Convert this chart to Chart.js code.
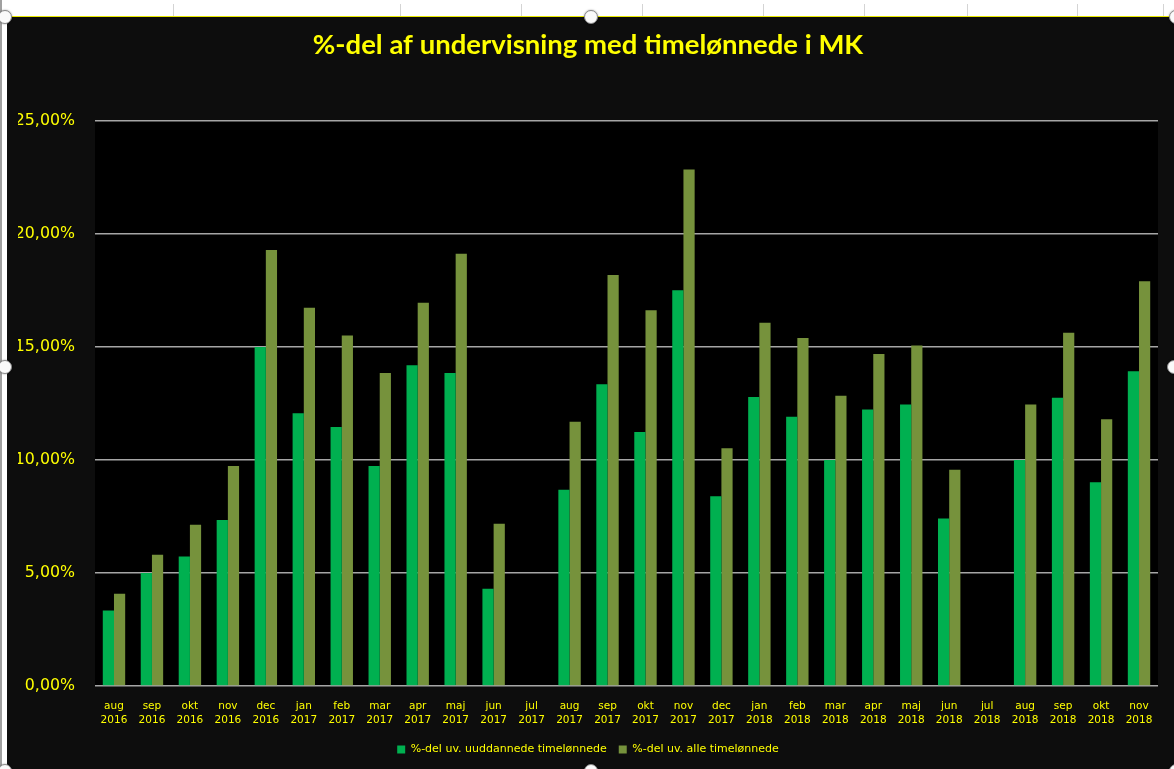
<!DOCTYPE html>
<html>
<head>
<meta charset="utf-8">
<script src="https://cdn.jsdelivr.net/npm/chart.js@4.4.1/dist/chart.umd.min.js"></script>
<style>
  html, body { margin: 0; padding: 0; background: #ffffff; width: 1174px; height: 769px; overflow: hidden; position: relative; }
  #leftline { position: absolute; left: 0; top: 0; width: 2px; height: 769px; background: #a0a0a0; }
  .col { position: absolute; top: 4px; width: 1px; height: 12px; background: #d4d4d4; }
  #topline { position: absolute; left: 7px; top: 16px; width: 1167px; height: 1px; background: #e8e800; }
  #frame { position: absolute; left: 7px; top: 17px; width: 1167px; height: 752px; background: #0d0d0d; }
  #frame canvas { position: absolute; left: 0; top: 0; }
  .h { position: absolute; width: 12px; height: 12px; border-radius: 50%; background: #fafafa; border: 1px solid #8a8a8a; box-shadow: 0 0 2px rgba(0,0,0,0.4); transform: translate(-7px,-7px); }
</style>
</head>
<body>
<div id="leftline"></div>
<div class="col" style="left:173px"></div>
<div class="col" style="left:400px"></div>
<div class="col" style="left:521px"></div>
<div class="col" style="left:642px"></div>
<div class="col" style="left:763px"></div>
<div class="col" style="left:864px"></div>
<div class="col" style="left:967px"></div>
<div class="col" style="left:1077px"></div>
<div class="col" style="left:1163px"></div>
<div id="topline"></div>
<div id="frame"><canvas id="c" width="1167" height="752"></canvas></div>
<div class="h" style="left:5px;top:17px"></div>
<div class="h" style="left:591px;top:17px"></div>
<div class="h" style="left:1176px;top:17px"></div>
<div class="h" style="left:5px;top:367px"></div>
<div class="h" style="left:1174px;top:367px"></div>
<div class="h" style="left:5px;top:771px"></div>
<div class="h" style="left:591px;top:771px"></div>
<div class="h" style="left:1176px;top:771px"></div>
<script>
const chartTitle = '%-del af undervisning med timelønnede i MK';
const months = ['aug','sep','okt','nov','dec','jan','feb','mar','apr','maj','jun','jul','aug','sep','okt','nov','dec','jan','feb','mar','apr','maj','jun','jul','aug','sep','okt','nov'];
const years  = ['2016','2016','2016','2016','2016','2017','2017','2017','2017','2017','2017','2017','2017','2017','2017','2017','2017','2018','2018','2018','2018','2018','2018','2018','2018','2018','2018','2018'];
const seriesNames = ['%-del uv. uuddannede timelønnede', '%-del uv. alle timelønnede'];
const uuddannede = [3.34, 5.00, 5.73, 7.35, 15.00, 12.07, 11.46, 9.74, 14.19, 13.85, 4.30, null, 8.68, 13.35, 11.24, 17.51, 8.40, 12.79, 11.91, 10.00, 12.24, 12.46, 7.41, null, 10.00, 12.75, 9.02, 13.93];
const alle = [4.08, 5.81, 7.13, 9.74, 19.29, 16.74, 15.51, 13.85, 16.96, 19.13, 7.18, null, 11.69, 18.19, 16.63, 22.85, 10.52, 16.07, 15.40, 12.84, 14.69, 15.07, 9.57, null, 12.46, 15.63, 11.80, 17.91];
const yTicks = [0, 5, 10, 15, 20, 25];

const YELLOW = '#ffff00';
const plotBg = {
  id: 'plotBg',
  beforeDraw(chart) {
    const {ctx, chartArea: a} = chart;
    ctx.save();
    ctx.fillStyle = '#000000';
    ctx.fillRect(a.left, a.top, a.right - a.left, a.bottom - a.top);
    ctx.restore();
  }
};

new Chart(document.getElementById('c'), {
  type: 'bar',
  data: {
    labels: months.map((m, i) => [m, years[i]]),
    datasets: [
      { label: seriesNames[0], data: uuddannede, backgroundColor: '#00b050', borderWidth: 0 },
      { label: seriesNames[1], data: alle, backgroundColor: '#76923c', borderWidth: 0 }
    ]
  },
  options: {
    responsive: false,
    animation: false,
    devicePixelRatio: 1,
    datasets: { bar: { categoryPercentage: 0.59, barPercentage: 1.0 } },
    layout: { padding: { left: 11, right: 16, top: 0, bottom: 4 } },
    scales: {
      y: {
        min: 0, max: 25,
        afterBuildTicks(scale) { scale.ticks = yTicks.map(v => ({ value: v })); },
        afterFit(scale) { scale.width = 77; },
        ticks: {
          color: YELLOW, padding: 20,
          font: { family: 'DejaVu Sans', size: 15.8 },
          callback: v => v.toFixed(2).replace('.', ',') + '%'
        },
        grid: { color: '#a6a6a6', lineWidth: 1.5, drawTicks: false },
        border: { display: false }
      },
      x: {
        afterFit(scale) { scale.height = 46; },
        ticks: {
          color: YELLOW, padding: 13, autoSkip: false, maxRotation: 0,
          font: { family: 'DejaVu Sans', size: 10.5, lineHeight: 1.35 }
        },
        grid: { display: false, drawTicks: false },
        border: { display: false }
      }
    },
    plugins: {
      title: {
        display: true, text: chartTitle, color: YELLOW,
        font: { family: 'Lato', size: 27.5, weight: 'bold', lineHeight: 1.2 },
        padding: { top: 12, bottom: 59 }
      },
      legend: {
        position: 'bottom',
        labels: {
          color: YELLOW, boxWidth: 8, boxHeight: 8, padding: 12,
          font: { family: 'DejaVu Sans', size: 11 }
        }
      },
      tooltip: { enabled: false }
    }
  },
  plugins: [plotBg]
});
</script>
</body>
</html>
